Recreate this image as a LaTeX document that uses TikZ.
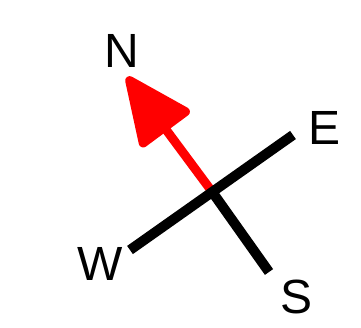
\documentclass[tikz,border=0pt]{standalone}
\usepackage{fontspec}
\setmainfont{Liberation Sans}
\usetikzlibrary{arrows.meta}

\begin{document}
\begin{tikzpicture}[x=1pt, y=-1pt,
    dirlabel/.style={font=\fontsize{48}{48}\selectfont, inner sep=0pt},
    needle/.style={red, line width=9pt, -{Triangle[length=74pt, width=64pt, round]}},
    axis/.style={black, line width=10pt}]
        \useasboundingbox (0,0) rectangle (361,328);

        % Points
        \coordinate (c) at (213,193);
        \coordinate (n) at (127,77);
        \coordinate (e) at (293,135);
        \coordinate (w) at (130,250);
        \coordinate (s) at (269,272);

        % Needle
        \draw[needle] (c) -- (n);

        % Cross
        \draw[axis] (w) -- (e);
        \draw[axis] (c) -- (s);

        % Labels
        \node[dirlabel] (lN) at (122,51) {N};
        \node[dirlabel] (lE) at (325,128) {E};
        \node[dirlabel] (lW) at (100,264) {W};
        \node[dirlabel] (lS) at (297,297) {S};
      \end{tikzpicture}
\end{document}
